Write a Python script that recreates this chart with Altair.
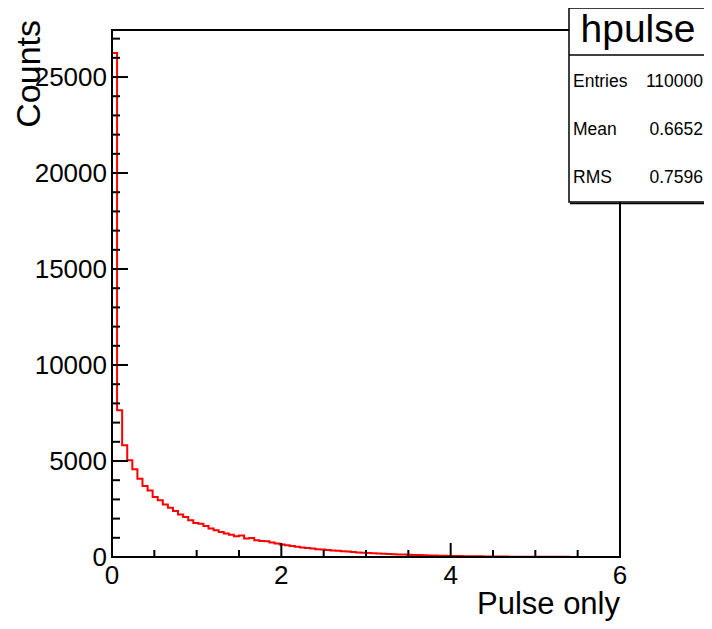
import altair as alt
import pandas as pd

# ---- data (100 bins over 0..6) ----
x_min, x_max = 0.0, 6.0
counts = [
    26250, 7650, 5820, 5040, 4570, 4080, 3700, 3470, 3130, 2950,
    2730, 2570, 2400, 2220, 2080, 1910, 1770, 1730, 1610, 1480,
    1390, 1300, 1220, 1160, 1080, 1120, 960, 990, 870, 830,
    815, 750, 700, 650, 610, 570, 530, 500, 470, 440,
    410, 390, 365, 340, 320, 300, 280, 260, 240, 225,
    210, 195, 180, 168, 155, 145, 135, 125, 115, 105,
    98, 90, 82, 76, 70, 64, 58, 53, 49, 45,
    41, 37, 34, 31, 28, 26, 23, 21, 19, 17,
    16, 14, 13, 12, 11, 10, 9, 8, 7, 7,
    6, 5, 5, 4, 4, 3, 3, 3, 2, 2,
]
y_max = 27450
x_labels = [0, 2, 4, 6]
y_labels = [0, 5000, 10000, 15000, 20000, 25000]
x_minor = [0.5, 1.0, 1.5, 2.5, 3.0, 3.5, 4.5, 5.0, 5.5]
y_minor = [v for v in range(1000, 28000, 1000) if v % 5000 != 0]
stats_names = ["Entries", "Mean", "RMS"]
stats_values = ["110000", "0.6652", "0.7596"]
hist_name = "hpulse"
x_title = "Pulse only"
y_title = "Counts"

FONT = "Liberation Sans"
W, H = 508, 527

n_bins = len(counts)
bw = (x_max - x_min) / n_bins
edges = [x_min + i * bw for i in range(n_bins + 1)]
hist = pd.DataFrame({"x": edges, "y": counts + [counts[-1]]})

xs = alt.Scale(domain=[x_min, x_max], nice=False, zero=False)
ys = alt.Scale(domain=[0, y_max], nice=False)

line = alt.Chart(hist).mark_line(
    interpolate="step-after", color="#ff0000", strokeWidth=2, clip=True
).encode(
    x=alt.X("x:Q", scale=xs, axis=None),
    y=alt.Y("y:Q", scale=ys, axis=None),
)

frame_df = pd.DataFrame({"x": [x_min], "x2": [x_max], "y": [0], "y2": [y_max]})
frame = alt.Chart(frame_df).mark_rect(
    fillOpacity=0, stroke="black", strokeWidth=2
).encode(
    x=alt.X("x:Q", scale=xs, axis=None), x2="x2:Q",
    y=alt.Y("y:Q", scale=ys, axis=None), y2="y2:Q",
)

def yticks(vals, length):
    return alt.Chart(pd.DataFrame({"v": vals})).mark_rule(
        color="black", strokeWidth=2
    ).encode(y=alt.Y("v:Q", scale=ys, axis=None), x=alt.value(0), x2=alt.value(length))

def xticks(vals, length):
    return alt.Chart(pd.DataFrame({"v": vals})).mark_rule(
        color="black", strokeWidth=2
    ).encode(x=alt.X("v:Q", scale=xs, axis=None), y=alt.value(H), y2=alt.value(H - length))

ylab = alt.Chart(pd.DataFrame({"v": y_labels})).mark_text(
    font=FONT, fontSize=26, align="right", baseline="middle", color="black", dy=1
).encode(y=alt.Y("v:Q", scale=ys, axis=None), x=alt.value(-5), text=alt.Text("v:Q", format="d"))

xlab = alt.Chart(pd.DataFrame({"v": x_labels})).mark_text(
    font=FONT, fontSize=26, align="center", baseline="top", color="black"
).encode(x=alt.X("v:Q", scale=xs, axis=None), y=alt.value(H + 6), text=alt.Text("v:Q", format="d"))

one = pd.DataFrame({"a": [0]})
xtitle = alt.Chart(one).mark_text(
    text=x_title, font=FONT, fontSize=31, align="right", baseline="alphabetic", color="black"
).encode(x=alt.value(W), y=alt.value(H + 57))
ytitle = alt.Chart(one).mark_text(
    text=y_title, font=FONT, fontSize=34, align="right", baseline="alphabetic",
    angle=270, color="black"
).encode(x=alt.value(-72), y=alt.value(-10))

box = alt.Chart(one).mark_rect(fill="white", stroke="black", strokeWidth=1.5).encode(
    x=alt.value(457), x2=alt.value(640), y=alt.value(-22), y2=alt.value(172)
)
sep = alt.Chart(one).mark_rule(color="black", strokeWidth=1.5).encode(
    x=alt.value(457), x2=alt.value(640), y=alt.value(25)
)
shadow = alt.Chart(one).mark_rule(color="black", strokeWidth=1.5).encode(
    x=alt.value(458), x2=alt.value(640), y=alt.value(173.5)
)
title_txt = alt.Chart(one).mark_text(
    text=hist_name, font=FONT, fontSize=39, align="center", baseline="middle", color="black"
).encode(x=alt.value(526), y=alt.value(0))

stat_layers = []
for i, (nm, vl) in enumerate(zip(stats_names, stats_values)):
    yy = 52 + i * 48
    stat_layers.append(alt.Chart(one).mark_text(
        text=nm, font=FONT, fontSize=17.5, align="left", baseline="middle", color="black"
    ).encode(x=alt.value(461), y=alt.value(yy)))
    stat_layers.append(alt.Chart(one).mark_text(
        text=vl, font=FONT, fontSize=17.5, align="right", baseline="middle", color="black"
    ).encode(x=alt.value(591), y=alt.value(yy)))

chart = alt.layer(
    line, frame,
    yticks(y_labels, 16), yticks(y_minor, 8),
    xticks(x_labels, 14), xticks(x_minor, 7),
    ylab, xlab, xtitle, ytitle,
    box, sep, shadow, title_txt, *stat_layers,
).properties(
    width=W, height=H,
    autosize=alt.AutoSizeParams(type="none"),
    padding={"left": 104, "top": 22, "right": 84, "bottom": 64},
    background="white",
).configure_view(stroke="transparent")

chart.save("out.html", embed_options={"renderer": "svg", "actions": False})
